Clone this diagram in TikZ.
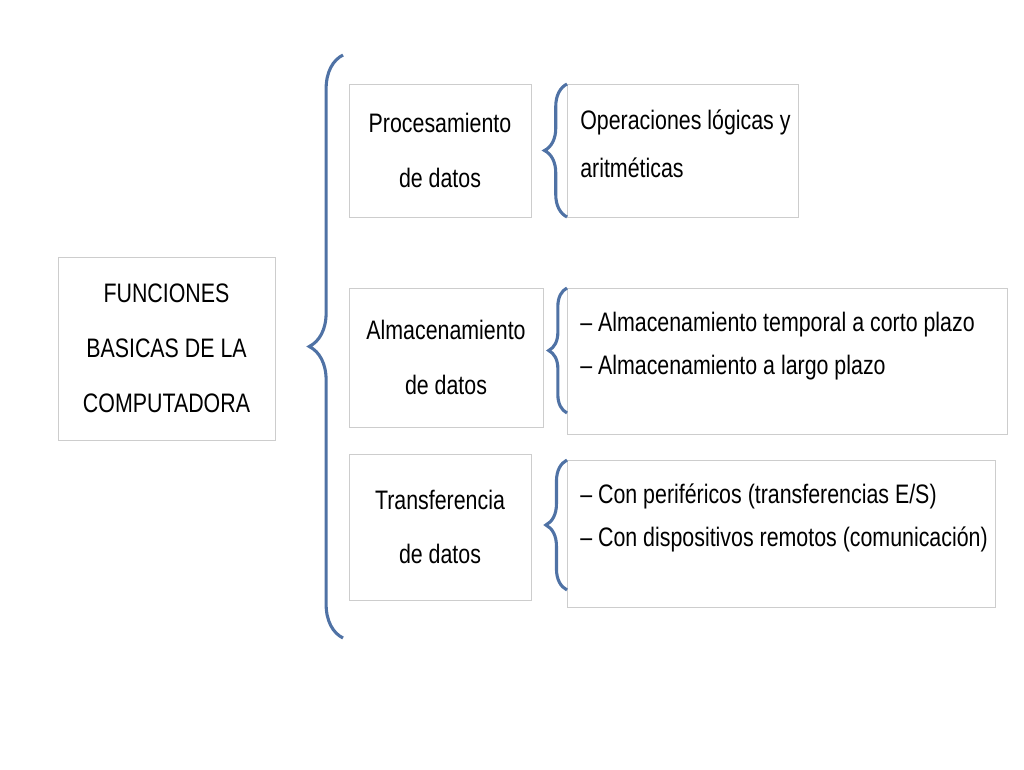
\documentclass[tikz,border=0pt]{standalone}
\usepackage{fontspec}
\setmainfont{Liberation Sans}[FakeStretch=0.8]
\usetikzlibrary{decorations.pathreplacing}
\definecolor{bracecol}{RGB}{79,114,165}
\definecolor{boxcol}{RGB}{205,205,205}
\tikzset{
	box/.style={draw=boxcol, line width=0.6pt, inner sep=0pt, align=center},
	brc/.style={draw=bracecol, line width=2.2pt, decorate, decoration={brace, amplitude=#1}},
	txt/.style={font=\fontsize{19}{39}\selectfont},
	lst/.style={font=\fontsize{19}{30.5}\selectfont, align=left, anchor=north west, inner sep=0pt}
}
\begin{document}
\begin{tikzpicture}[x=0.025cm, y=-0.025cm]
	
	\useasboundingbox (0,0) rectangle (1024,769);
	
	% cajas
	\node[box, txt, minimum width=217*0.025cm, minimum height=183*0.025cm] (main) at (166.5,348.5) {FUNCIONES\\BASICAS DE  LA\\COMPUTADORA};
	\node[box, txt, minimum width=182*0.025cm, minimum height=133*0.025cm] (proc) at (440,150.5) {Procesamiento\\de datos};
	\node[box, txt, minimum width=194*0.025cm, minimum height=139*0.025cm] (alm) at (446,357.5) {Almacenamiento\\de datos};
	\node[box, txt, minimum width=182*0.025cm, minimum height=146*0.025cm] (trans) at (440,527) {Transferencia\\de datos};
	
	\node[box, minimum width=231*0.025cm, minimum height=133*0.025cm] (oper) at (682.5,150.5) {};
	\node[box, minimum width=440*0.025cm, minimum height=146*0.025cm] (almlist) at (787,361) {};
	\node[box, minimum width=428*0.025cm, minimum height=147*0.025cm] (translist) at (781,533.5) {};
	
	% textos
	\node[lst, font=\fontsize{19}{33.5}\selectfont] (opertxt) at (580,110) {Operaciones lógicas y\\aritméticas};
	\node[lst] (almtxt) at (580,312) {-- Almacenamiento temporal a corto plazo\\-- Almacenamiento a largo plazo};
	\node[lst] (transtxt) at (580,484) {-- Con periféricos (transferencias E/S)\\-- Con dispositivos remotos (comunicación)};
	
	% llaves
	\draw[brc=24pt] (343,638) -- (343,55);
	\draw[brc=16pt] (567,217) -- (567,84);
	\draw[brc=13pt] (567,413) -- (567,288);
	\draw[brc=15pt] (567,590) -- (567,460);
	
\end{tikzpicture}
\end{document}
